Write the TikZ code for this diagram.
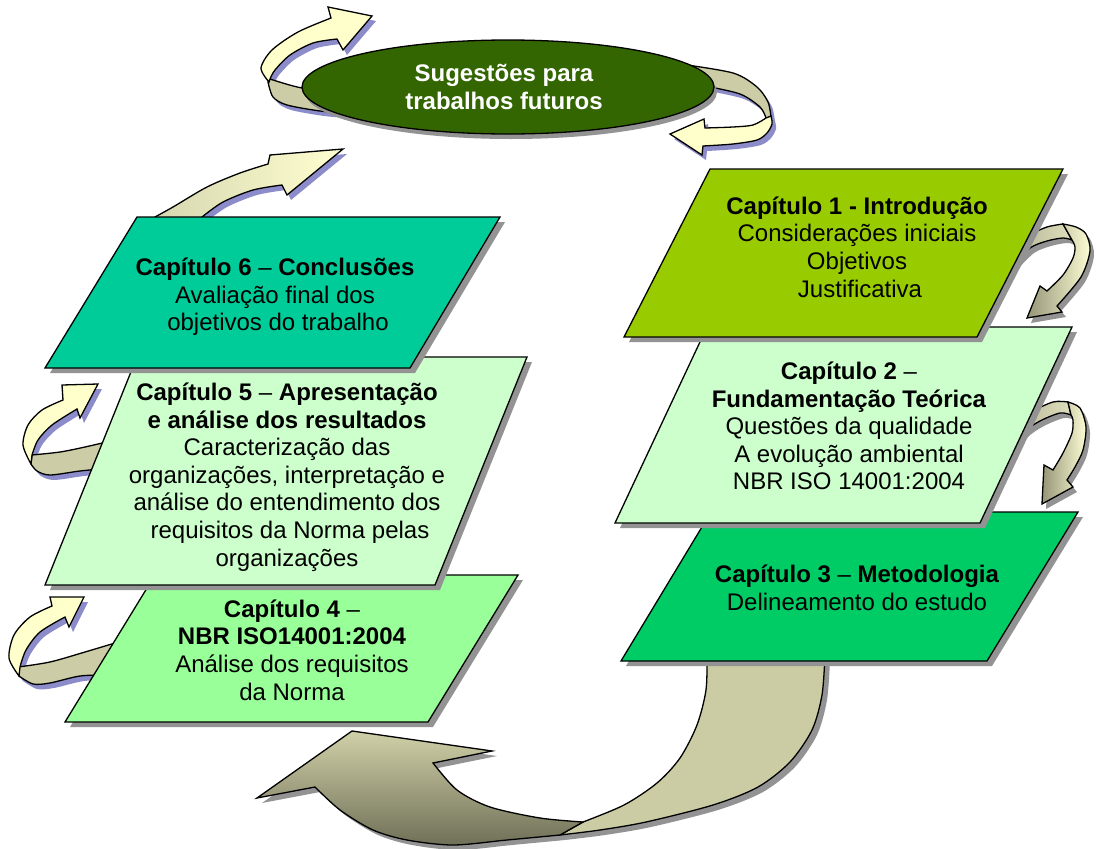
\documentclass[tikz,border=0pt]{standalone}
\usepackage{fontspec}
\setmainfont{Liberation Sans}

\definecolor{ellgreen}{HTML}{336600}
\definecolor{chA}{HTML}{99CC00}
\definecolor{chB}{HTML}{CCFFCC}
\definecolor{chC}{HTML}{00CC66}
\definecolor{chD}{HTML}{99FF99}
\definecolor{chE}{HTML}{CCFFCC}
\definecolor{chF}{HTML}{00CC99}
\definecolor{paleyellow}{HTML}{FFFFCC}
\definecolor{bandkhaki}{HTML}{CCCCA6}
\definecolor{shadegrey}{HTML}{939393}
\definecolor{shadeblue}{HTML}{8C8CCB}

% chapter boxes (parallelograms)
\def\boxOne{(710,169) -- (1063,169) -- (977,337) -- (624,337) -- cycle}
\def\boxTwo{(707,327) -- (1072,327) -- (980,523) -- (615,523) -- cycle}
\def\boxThree{(711,512) -- (1078,512) -- (987,661) -- (621,661) -- cycle}
\def\boxFour{(155,575) -- (518,575) -- (428,722) -- (65,722) -- cycle}
\def\boxFive{(137,357) -- (527,357) -- (435,585) -- (45,585) -- cycle}
\def\boxSix{(137,217) -- (500,217) -- (410,368) -- (45,368) -- cycle}

% loop arrow around the left of the ellipse
\def\aOneBand{(268,82) -- plot[smooth] coordinates {(268,82) (273,97) (287,105) (320,111) (345,113)} -- (345,92) -- plot[smooth] coordinates {(345,92) (302,88) (270,79)} -- cycle}
\def\aOneFront{(269,82) -- plot[smooth] coordinates {(269,82) (261,68) (272,50) (298,32) (331,18)} -- (328,7) -- (372,16) -- (343,50) -- (337,39) -- plot[smooth] coordinates {(337,39) (313,43) (290,55) (275,70) (270,79)} -- cycle}
% loop arrow around the right of the ellipse
\def\aTwoBand{(680,64) -- plot[smooth] coordinates {(680,64) (733,73) (757,87) (768,102) (771,117)} -- (766,118) -- plot[smooth] coordinates {(766,118) (760,107) (740,94) (705,86)} -- cycle}
\def\aTwoFront{(771,116) -- plot[smooth] coordinates {(771,116) (772,124) (767,133) (757,140) (733,144) (703,146)} -- (702,155) -- (670,134) -- (704,119) -- (705,128) -- plot[smooth] coordinates {(705,128) (733,127) (753,125) (766,118)} -- cycle}
% chapter 1 -> chapter 2
\def\aThreeBand{(1005,270) -- plot[smooth] coordinates {(1005,270) (1018,248) (1030,235) (1047,227) (1063,224)} -- (1072,240) -- plot[smooth] coordinates {(1072,240) (1063,238) (1047,241) (1030,248) (1012,266)} -- cycle}
\def\aThreeFront{(1063,224) -- plot[smooth] coordinates {(1063,224) (1076,227) (1086,234) (1090,251) (1081,277) (1057,306)} -- (1062,312) -- (1027,318) -- (1040,286) -- (1047,291) -- plot[smooth] coordinates {(1047,291) (1063,275) (1073,258) (1075,247) (1072,240)} -- cycle}
% chapter 2 -> chapter 3
\def\aFourBand{(1004,456) -- plot[smooth] coordinates {(1004,456) (1015,430) (1030,413) (1053,402) (1068,402)} -- (1071,415) -- plot[smooth] coordinates {(1071,415) (1060,413) (1040,421) (1023,433) (1010,455)} -- cycle}
\def\aFourFront{(1068,402) -- plot[smooth] coordinates {(1068,402) (1080,408) (1086,427) (1083,450) (1075,467) (1067,480)} -- (1073,487) -- (1042,504) -- (1044,465) -- (1053,470) -- plot[smooth] coordinates {(1053,470) (1063,453) (1072,433) (1073,420) (1071,415)} -- cycle}
% chapter 4 -> chapter 5
\def\aFiveBand{(32,455) -- plot[smooth] coordinates {(32,455) (60,452) (85,447) (115,440)} -- (110,468) -- plot[smooth] coordinates {(110,468) (80,471) (50,475) (37,471) (31,464)} -- cycle}
\def\aFiveFront{(31,464) -- plot[smooth] coordinates {(31,464) (23,445) (28,425) (42,410) (63,400)} -- (62,385) -- (98,384) -- (80,418) -- (77,409) -- plot[smooth] coordinates {(77,409) (52,425) (38,440) (32,455)} -- cycle}
% chapter 3 -> chapter 4 (left of chapter 4)
\def\aSixBand{(18,667) -- plot[smooth] coordinates {(18,667) (50,662) (85,652) (125,640)} -- (108,675) -- plot[smooth] coordinates {(108,675) (80,676) (50,683) (33,684) (19,676)} -- cycle}
\def\aSixFront{(19,676) -- plot[smooth] coordinates {(19,676) (9,658) (14,635) (30,617) (52,606)} -- (50,597) -- (84,597) -- (69,627) -- (65,617) -- plot[smooth] coordinates {(65,617) (40,632) (26,650) (20,667)} -- cycle}
% chapter 6 -> suggestions
\def\aSeven{(150,225) -- (155,217) -- plot[smooth] coordinates {(155,217) (173,207) (207,187) (240,173) (268,164)} -- (270,155) -- (343,149) -- (287,195) -- (282,185) -- plot[smooth] coordinates {(282,185) (253,190) (223,202) (202,217)} -- (198,225) -- cycle}
% large arrow from chapter 3 back to chapter 4
\def\aBigBand{(707,655) -- plot[smooth] coordinates {(707,655) (706,690) (697,725) (680,758) (657,783) (624,805) (583,822)} -- (560,835) -- plot[smooth] coordinates {(560,835) (600,830) (646,822) (713,805) (758,787) (790,762) (812,730) (822,695) (825,655)} -- cycle}
\def\aBigFront{(583,822) -- (560,835) -- plot[smooth] coordinates {(560,835) (507,840) (453,845) (407,840) (373,830) (340,810) (315,787)} -- (257,798) -- (352,731) -- (492,751) -- (433,763) -- plot[smooth] coordinates {(433,763) (457,790) (490,807) (540,818) (583,822)} -- cycle}

\tikzset{
  outline/.style={draw=black, line width=1.3pt, line join=miter},
  greyshadow/.style={fill=shadegrey, draw=none},
  blueshadow/.style={fill=shadeblue, draw=none},
  lbl/.style={align=center, inner sep=0pt, font=\fontsize{24}{27.6}\selectfont},
}

\begin{document}
\begin{tikzpicture}[x=1pt,y=-1pt]
\fill[white] (0,0) rectangle (1096,849);
\useasboundingbox (0,0) rectangle (1096,849);

% arrows looping round the ellipse
\begin{scope}[shift={(4,5)}]
  \fill[blueshadow] \aOneFront;
  \fill[blueshadow] \aOneBand;
  \fill[blueshadow] \aTwoFront;
  \fill[blueshadow] \aTwoBand;
\end{scope}
\filldraw[outline, fill=bandkhaki] \aOneBand;
\filldraw[outline, fill=paleyellow] \aOneFront;
\filldraw[outline, fill=bandkhaki] \aTwoBand;
\filldraw[outline, fill=paleyellow] \aTwoFront;

% suggestions ellipse
\fill[shadegrey] (511,92) ellipse [x radius=206, y radius=47];
\filldraw[outline, fill=ellgreen] (508,87) ellipse [x radius=206, y radius=47];
\node[lbl, text=white, font=\fontsize{24}{27.6}\selectfont\bfseries] (sug) at (504,87) {Sugestões para\\trabalhos futuros};

% chapter 6 -> suggestions
\fill[blueshadow, shift={(4,5)}] \aSeven;
\filldraw[outline, left color={rgb,255:red,214;green,214;blue,176}, middle color={rgb,255:red,170;green,170;blue,136}, right color={rgb,255:red,255;green,255;blue,208}] \aSeven;

% large return arrow
\begin{scope}[shift={(5,5)}]
  \fill[greyshadow] \aBigBand;
  \fill[greyshadow] \aBigFront;
\end{scope}
\filldraw[outline, fill={rgb,255:red,204;green,204;blue,164}] \aBigBand;
\filldraw[outline, top color={rgb,255:red,208;green,208;blue,168}, bottom color={rgb,255:red,112;green,112;blue,88}] \aBigFront;

% arrows on the right column
\begin{scope}[shift={(4,5)}]
  \fill[greyshadow] \aThreeBand;
  \fill[greyshadow] \aThreeFront;
  \fill[greyshadow] \aFourBand;
  \fill[greyshadow] \aFourFront;
\end{scope}
\filldraw[outline, left color={rgb,255:red,176;green,176;blue,146}, right color={rgb,255:red,222;green,222;blue,188}] \aThreeBand;
\filldraw[outline, left color={rgb,255:red,150;green,150;blue,120}, right color={rgb,255:red,252;green,252;blue,212}] \aThreeFront;
\filldraw[outline, left color={rgb,255:red,176;green,176;blue,146}, right color={rgb,255:red,222;green,222;blue,188}] \aFourBand;
\filldraw[outline, left color={rgb,255:red,150;green,150;blue,120}, right color={rgb,255:red,252;green,252;blue,212}] \aFourFront;

% arrows on the left column
\begin{scope}[shift={(4,5)}]
  \fill[blueshadow] \aFiveFront;
  \fill[blueshadow] \aFiveBand;
  \fill[blueshadow] \aSixFront;
  \fill[blueshadow] \aSixBand;
\end{scope}
\filldraw[outline, fill=bandkhaki] \aFiveBand;
\filldraw[outline, fill=paleyellow] \aFiveFront;
\filldraw[outline, fill=bandkhaki] \aSixBand;
\filldraw[outline, fill=paleyellow] \aSixFront;

% right column of chapters
\fill[greyshadow, shift={(5,5)}] \boxThree;
\filldraw[outline, fill=chC] \boxThree;
\fill[greyshadow, shift={(5,5)}] \boxTwo;
\filldraw[outline, fill=chB] \boxTwo;
\fill[greyshadow, shift={(5,5)}] \boxOne;
\filldraw[outline, fill=chA] \boxOne;

% left column of chapters
\fill[greyshadow, shift={(5,5)}] \boxFour;
\filldraw[outline, fill=chD] \boxFour;
\fill[greyshadow, shift={(5,5)}] \boxFive;
\filldraw[outline, fill=chE] \boxFive;
\fill[greyshadow, shift={(5,5)}] \boxSix;
\filldraw[outline, fill=chF] \boxSix;

% chapter texts
\node[lbl] (c1) at (857,247) {\textbf{Capítulo 1 - Introdução}\\Considerações iniciais\\Objetivos\\\hspace*{6pt}Justificativa};
\node[lbl] (c2) at (849,426) {\textbf{Capítulo 2} –\\\textbf{Fundamentação Teórica}\\Questões da qualidade\\A evolução ambiental\\NBR ISO 14001:2004};
\node[lbl] (c3) at (857,588) {\textbf{Capítulo 3} – \textbf{Metodologia}\\Delineamento do estudo};
\node[lbl] (c4) at (292,650) {\textbf{Capítulo 4} –\\\textbf{NBR ISO14001:2004}\\Análise dos requisitos\\da Norma};
\node[lbl] (c5) at (287,477) {\textbf{Capítulo 5} – \textbf{Apresentação}\\\textbf{e análise dos resultados}\\Caracterização das\\organizações, interpretação e\\análise do entendimento dos\\\hspace*{6pt}requisitos da Norma pelas\\organizações};
\node[lbl] (c6) at (275,297) {\textbf{Capítulo 6} – \textbf{Conclusões}\\Avaliação final dos\\\hspace*{6pt}objetivos do trabalho};
\end{tikzpicture}
\end{document}
